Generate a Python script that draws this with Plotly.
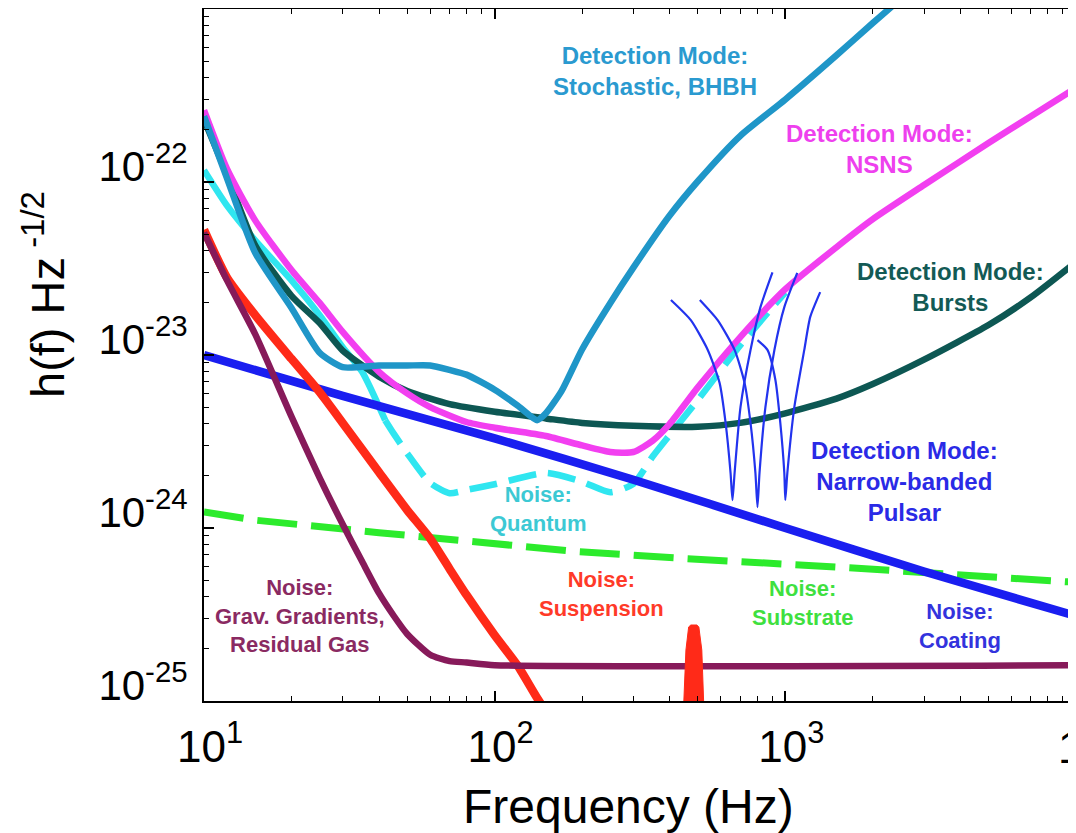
import plotly.graph_objects as go

# ---------------- data (frequency in Hz, strain in Hz^-1/2) ----------------
stoch_f = [10, 12, 15, 20, 25, 30, 40, 50, 60, 70, 80, 100, 120, 140, 150, 170, 200,
           250, 300, 400, 500, 700, 1000, 1500, 2000, 3000]
stoch_h = [2.4e-22, 1.05e-22, 3.9e-23, 1.87e-23, 1.03e-23, 8.5e-24, 8.7e-24, 8.7e-24,
           8.7e-24, 8.2e-24, 7.7e-24, 6.3e-24, 5.1e-24, 4.2e-24, 4.6e-24, 6.2e-24,
           1.08e-23, 2.0e-23, 3.2e-23, 6.4e-23, 1.01e-22, 1.85e-22, 3.0e-22, 5.4e-22,
           8.3e-22, 1.5e-21]

nsns_f = [10, 12, 15, 20, 25, 30, 40, 50, 60, 80, 100, 150, 200, 250, 300, 350, 400,
          500, 700, 1000, 1500, 2000, 3000, 5000, 7000, 10000]
nsns_h = [2.6e-22, 1.19e-22, 6.0e-23, 3.1e-23, 2.0e-23, 1.36e-23, 8.0e-24, 6.0e-24,
          5.0e-24, 4.1e-24, 3.8e-24, 3.4e-24, 3.0e-24, 2.75e-24, 2.75e-24, 3.2e-24,
          4.0e-24, 6.5e-24, 1.27e-23, 2.4e-23, 4.2e-23, 6.1e-23, 9.6e-23, 1.68e-22,
          2.4e-22, 3.5e-22]

bursts_f = [10, 12, 15, 20, 25, 30, 40, 50, 70, 100, 150, 200, 300, 500, 700, 1000,
            1500, 2000, 3000, 5000, 7000, 10000]
bursts_h = [2.3e-22, 1.1e-22, 4.3e-23, 2.2e-23, 1.53e-23, 1.06e-23, 7.5e-24, 6.2e-24,
            5.2e-24, 4.7e-24, 4.3e-24, 4.05e-24, 3.9e-24, 3.85e-24, 4.05e-24, 4.6e-24,
            5.6e-24, 6.8e-24, 9.4e-24, 1.49e-23, 2.16e-23, 3.45e-23]

quant_solid_f = [10, 12, 15, 20, 25, 30, 35, 42]
quant_solid_h = [1.17e-22, 7.3e-23, 4.6e-23, 2.7e-23, 1.7e-23, 1.11e-23, 8.0e-24, 4.2e-24]
quant_dash_f = [42, 45, 50, 60, 70, 80, 100, 150, 200, 250, 300, 350, 400, 500, 700, 1000]
quant_dash_h = [4.2e-24, 3.5e-24, 2.7e-24, 1.82e-24, 1.59e-24, 1.66e-24, 1.79e-24,
                2.08e-24, 1.85e-24, 1.61e-24, 1.8e-24, 2.6e-24, 3.45e-24, 5.5e-24,
                1.14e-23, 2.3e-23]

coat_f = [10, 30, 100, 300, 1000, 3000, 10000]
coat_h = [1.0e-23, 5.8e-24, 3.3e-24, 1.9e-24, 1.0e-24, 5.6e-25, 3.1e-25]

subs_f = [10, 15, 40, 88, 194, 427, 1630, 10000]
subs_h = [1.24e-24, 1.11e-24, 9.4e-25, 8.2e-25, 7.3e-25, 6.7e-25, 5.9e-25, 4.85e-25]

susp_f = [10, 12, 15, 20, 25, 30, 40, 50, 60, 70, 80, 100, 120, 140, 160]
susp_h = [5.3e-23, 2.8e-23, 1.7e-23, 9.5e-24, 6.1e-24, 4.05e-24, 2.1e-24, 1.27e-24,
          8.7e-25, 5.8e-25, 4.1e-25, 2.4e-25, 1.6e-25, 1.04e-25, 7.4e-26]

spike_f = [447, 455, 465, 473, 496, 504, 516, 524]
spike_h = [9.5e-26, 1.97e-25, 2.68e-25, 2.75e-25, 2.75e-25, 2.68e-25, 1.97e-25, 9.5e-26]

grav_f = [10, 12, 15, 20, 25, 30, 35, 40, 45, 50, 60, 70, 80, 100, 10000]
grav_h = [5.1e-23, 2.7e-23, 1.32e-23, 4.4e-24, 1.95e-24, 1.05e-24, 6.4e-25, 4.2e-25,
          3.1e-25, 2.44e-25, 1.85e-25, 1.70e-25, 1.67e-25, 1.61e-25, 1.61e-25]

puls1_f = [404, 473, 541, 594, 623, 648, 658, 669, 701, 759, 821, 903]
puls1_h = [2.08e-23, 1.59e-23, 1.07e-23, 6.9e-24, 4.05e-24, 2.08e-24, 1.45e-24,
           2.08e-24, 5.0e-24, 1.07e-23, 1.89e-23, 3.0e-23]
puls2_f = [508, 585, 669, 724, 759, 789, 802, 815, 854, 917, 992, 1099]
puls2_h = [2.08e-23, 1.59e-23, 1.07e-23, 6.9e-24, 4.05e-24, 2.08e-24, 1.32e-24,
           2.08e-24, 5.0e-24, 1.07e-23, 1.89e-23, 2.98e-23]
puls3_f = [802, 868, 924, 961, 992, 1000, 1016, 1074, 1162, 1218, 1318]
puls3_h = [1.22e-23, 1.07e-23, 7.2e-24, 4.05e-24, 2.08e-24, 1.45e-24, 2.08e-24,
           5.0e-24, 1.07e-23, 1.66e-23, 2.31e-23]

x_ticks = [10, 100, 1000]
x_ticktext = ["10<sup>1</sup>", "10<sup>2</sup>", "10<sup>3</sup>"]
x_edge_label = "10<sup>4</sup>"   # partly cut off at the right edge in the reference
y_ticks = [1e-25, 1e-24, 1e-23, 1e-22, 1e-21]
y_ticktext = ["10<sup>-25</sup>", "10<sup>-24</sup>", "10<sup>-23</sup>", "10<sup>-22</sup>", ""]

# ---------------- styling ----------------
C_STOCH = "#1f96c8"
C_NSNS = "#f23ff0"
C_BURST = "#0d5753"
C_QUANT = "#30e6f0"
C_COAT = "#1a1ef0"
C_SUBS = "#2ceb2c"
C_SUSP = "#ff2a18"
C_GRAV = "#871a5a"
C_PULS = "#2233ee"

FONT = "Liberation Sans"

# the page body has an 8px margin, so the figure is sized/offset to fit the window
OFF = 8
W, H = 1068, 825
L, R, T, B = 196, 0, 1, 132

fig = go.Figure()


def add_line(f, h, color, width, dash="solid", shape="spline"):
    fig.add_trace(go.Scatter(
        x=f, y=h, mode="lines",
        line=dict(color=color, width=width, dash=dash, shape=shape, smoothing=0.6),
        hoverinfo="skip", showlegend=False))


add_line(subs_f, subs_h, C_SUBS, 7, dash="40px,14px", shape="linear")
add_line(quant_dash_f, quant_dash_h, C_QUANT, 6.5, dash="28px,12px")
add_line(quant_solid_f, quant_solid_h, C_QUANT, 6.5)
add_line(coat_f, coat_h, C_COAT, 8.5)
add_line(susp_f, susp_h, C_SUSP, 8.5)
add_line(grav_f, grav_h, C_GRAV, 6.5)
add_line(bursts_f, bursts_h, C_BURST, 6.5)
add_line(nsns_f, nsns_h, C_NSNS, 6.5)
add_line(stoch_f, stoch_h, C_STOCH, 6.5)
for pf, ph_ in [(puls1_f, puls1_h), (puls2_f, puls2_h), (puls3_f, puls3_h)]:
    add_line(pf, ph_, C_PULS, 2.2, shape="spline")
fig.add_trace(go.Scatter(x=spike_f, y=spike_h, mode="lines", fill="toself",
                         fillcolor=C_SUSP, line=dict(color=C_SUSP, width=1),
                         hoverinfo="skip", showlegend=False))

# ---------------- text labels (positions given in window pixels) ----------------
pw, ph = W - L - R, H - T - B


def px(x):
    return (x - (L + OFF)) / pw


def py(y):
    return (H - B + OFF - y) / ph


labels = [
    ("Detection Mode:<br>Stochastic, BHBH", 655, 71, "#2a9ad0", 24),
    ("Detection Mode:<br>NSNS", 879, 149, "#ee40ee", 24),
    ("Detection Mode:<br>Bursts", 950, 287, "#135a55", 24),
    ("Detection Mode:<br>Narrow-banded<br>Pulsar", 904, 481, "#2a2ae6", 24),
    ("Noise:<br>Quantum", 538, 509, "#3cc9d4", 22),
    ("Noise:<br>Suspension", 601, 594, "#ff3a28", 22),
    ("Noise:<br>Substrate", 802, 603, "#3fe03f", 22),
    ("Noise:<br>Coating", 960, 626, "#3333dd", 22),
    ("Noise:<br>Grav. Gradients,<br>Residual Gas", 300, 616, "#8a2a62", 22),
]
for text, x, y, color, size in labels:
    fig.add_annotation(text=text, x=px(x), y=py(y), xref="paper", yref="paper",
                       xanchor="center", yanchor="middle", showarrow=False,
                       align="center",
                       font=dict(family=FONT, size=size, color=color, weight="bold"))

# right-edge tick label (cut by the window edge, as in the reference)
fig.add_annotation(text=x_edge_label, x=px(1056), y=py(744), xref="paper", yref="paper",
                   xanchor="left", yanchor="middle", showarrow=False,
                   font=dict(family=FONT, size=44, color="black"))

# axis titles
fig.add_annotation(text="Frequency (Hz)", x=px(628), y=py(806), xref="paper", yref="paper",
                   xanchor="center", yanchor="middle", showarrow=False,
                   font=dict(family=FONT, size=48, color="black"))
fig.add_annotation(text="h(f) Hz<sup> -1/2</sup>", x=px(44), y=py(295), xref="paper",
                   yref="paper", xanchor="center", yanchor="middle", showarrow=False,
                   textangle=-90, font=dict(family=FONT, size=47, color="black"))

minor_x = [k * 10 ** e for e in range(1, 4) for k in range(2, 10)]
minor_y = [k * 10.0 ** e for e in range(-25, -21) for k in range(2, 10)]

fig.update_layout(
    width=W, height=H,
    margin=dict(l=L, r=R, t=T, b=B, pad=0),
    paper_bgcolor="white", plot_bgcolor="white",
    showlegend=False,
    xaxis=dict(type="log", range=[1, 4], tickmode="array", tickvals=x_ticks,
               ticktext=x_ticktext, ticks="inside", ticklen=10, tickwidth=1.5,
               tickcolor="black", showline=True, linecolor="black", linewidth=2,
               mirror="ticks", showgrid=False, zeroline=False,
               tickfont=dict(family=FONT, size=44, color="black"),
               ticklabelstandoff=6, ticklabelshift=6,
               minor=dict(tickmode="array", tickvals=minor_x, ticks="inside", ticklen=5,
                          tickwidth=1, tickcolor="black", showgrid=False)),
    yaxis=dict(type="log", range=[-25, -21], tickmode="array", tickvals=y_ticks,
               ticktext=y_ticktext, ticks="inside", ticklen=10, tickwidth=1.5,
               tickcolor="black", showline=True, linecolor="black", linewidth=2,
               mirror=False, showgrid=False, zeroline=False,
               tickfont=dict(family=FONT, size=42, color="black"),
               ticklabelstandoff=6, ticklabelshift=-16,
               minor=dict(tickmode="array", tickvals=minor_y, ticks="inside", ticklen=5,
                          tickwidth=1, tickcolor="black", showgrid=False)),
)

fig.write_html("out.html")
